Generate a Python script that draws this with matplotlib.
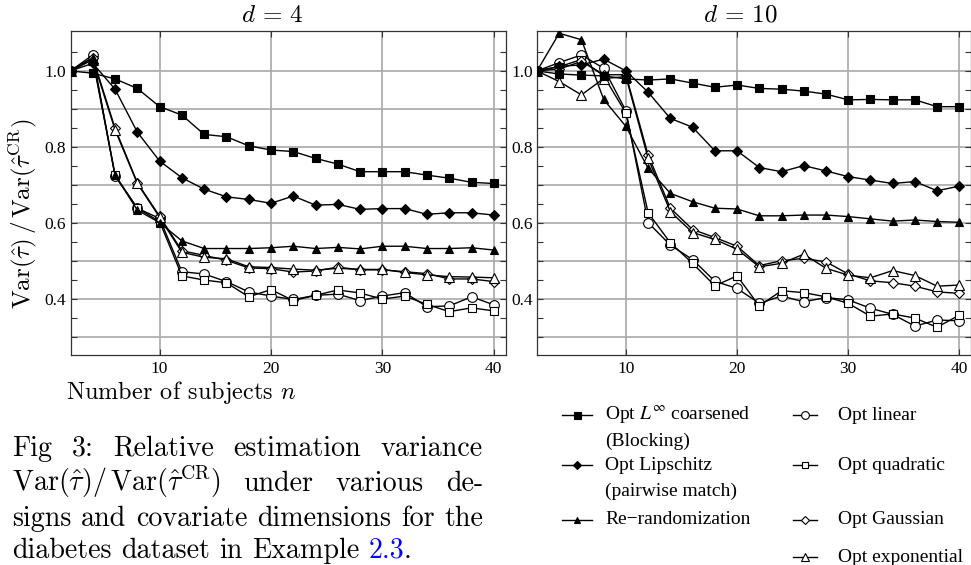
import matplotlib.pyplot as plt
import numpy as np
from matplotlib.lines import Line2D
from matplotlib.ticker import FixedFormatter, FixedLocator

plt.rcParams['mathtext.fontset'] = 'cm'
plt.rcParams['font.family'] = ['Liberation Serif', 'DejaVu Serif']

W, H = 971, 565

# number of subjects
n = list(range(2, 41, 2))

# d = 4
linf4 = [1.0, 0.994, 0.979, 0.954, 0.906, 0.884, 0.833, 0.827, 0.803, 0.792,
         0.788, 0.770, 0.755, 0.735, 0.735, 0.735, 0.726, 0.718, 0.707, 0.704]
lip4 = [1.0, 1.02, 0.952, 0.839, 0.763, 0.719, 0.689, 0.669, 0.662, 0.652,
        0.671, 0.647, 0.649, 0.636, 0.638, 0.638, 0.623, 0.627, 0.627, 0.621]
rerand4 = [1.0, 1.035, 0.726, 0.634, 0.601, 0.553, 0.533, 0.533, 0.533, 0.535,
           0.539, 0.533, 0.536, 0.532, 0.539, 0.539, 0.533, 0.533, 0.535, 0.529]
lin4 = [1.0, 1.042, 0.724, 0.639, 0.612, 0.472, 0.466, 0.446, 0.419, 0.408,
        0.399, 0.410, 0.413, 0.396, 0.408, 0.417, 0.380, 0.382, 0.406, 0.385]
quad4 = [1.0, 1.03, 0.726, 0.639, 0.604, 0.461, 0.450, 0.443, 0.406, 0.425,
         0.396, 0.410, 0.424, 0.416, 0.400, 0.408, 0.386, 0.367, 0.377, 0.369]
gauss4 = [1.0, 1.035, 0.849, 0.706, 0.618, 0.527, 0.515, 0.502, 0.482, 0.480,
          0.471, 0.474, 0.484, 0.477, 0.477, 0.472, 0.467, 0.453, 0.453, 0.446]
expo4 = [1.0, 1.03, 0.845, 0.704, 0.615, 0.523, 0.510, 0.506, 0.485, 0.483,
         0.479, 0.476, 0.481, 0.478, 0.478, 0.470, 0.464, 0.459, 0.458, 0.456]

# d = 10
linf10 = [1.0, 0.992, 0.989, 0.987, 0.979, 0.976, 0.979, 0.968, 0.957, 0.963,
          0.954, 0.952, 0.947, 0.939, 0.924, 0.925, 0.924, 0.924, 0.906, 0.906]
lip10 = [1.0, 1.012, 1.016, 1.031, 1.0, 0.944, 0.875, 0.852, 0.790, 0.790,
         0.746, 0.735, 0.751, 0.737, 0.722, 0.713, 0.704, 0.709, 0.685, 0.697]
rerand10 = [1.0, 1.099, 1.082, 0.925, 0.854, 0.744, 0.678, 0.656, 0.639, 0.637,
            0.619, 0.619, 0.621, 0.621, 0.617, 0.611, 0.605, 0.608, 0.604, 0.602]
lin10 = [1.0, 1.022, 1.042, 1.007, 0.895, 0.601, 0.542, 0.504, 0.447, 0.428,
         0.389, 0.408, 0.393, 0.404, 0.398, 0.376, 0.360, 0.329, 0.345, 0.343]
quad10 = [1.0, 1.011, 1.03, 0.987, 0.889, 0.627, 0.548, 0.494, 0.435, 0.461,
          0.382, 0.422, 0.417, 0.406, 0.389, 0.355, 0.361, 0.350, 0.326, 0.358]
gauss10 = [1.0, 1.005, 1.025, 0.99, 0.99, 0.779, 0.639, 0.583, 0.562, 0.539,
           0.488, 0.501, 0.507, 0.498, 0.466, 0.448, 0.443, 0.434, 0.419, 0.415]
expo10 = [1.0, 0.972, 0.937, 0.98, 0.985, 0.770, 0.630, 0.575, 0.557, 0.531,
          0.485, 0.494, 0.518, 0.481, 0.463, 0.456, 0.475, 0.462, 0.434, 0.437]

labels = [r'Opt $L^{\infty}$ coarsened' + '\n(Blocking)',
          'Opt Lipschitz\n(pairwise match)',
          'Re\u2212randomization',
          'Opt linear', 'Opt quadratic', 'Opt Gaussian', 'Opt exponential']
# marker, filled, size
styles = [('s', True, 6.3), ('D', True, 5.4), ('^', True, 6.2),
          ('o', False, 7.0), ('s', False, 6.0), ('D', False, 5.2), ('^', False, 7.0)]

fig = plt.figure(figsize=(W / 100, H / 100), dpi=100)


def px(x, y):
    return x / W, 1 - y / H


ax1 = fig.add_axes([70.5 / W, 1 - 355 / H, 435 / W, 324 / H])
ax2 = fig.add_axes([537 / W, 1 - 355 / H, 434 / W, 324 / H])

for ax, series in [(ax1, [linf4, lip4, rerand4, lin4, quad4, gauss4, expo4]),
                   (ax2, [linf10, lip10, rerand10, lin10, quad10, gauss10, expo10])]:
    order = [3, 4, 5, 6, 2, 1, 0]
    for i in order:
        m, filled, ms = styles[i]
        ax.plot(n, series[i], color='black', lw=1.0, marker=m, ms=ms,
                mfc='black' if filled else 'white', mec='black', mew=0.8,
                zorder=3 + (1 if filled else 0))
    ax.set_xlim(2.0, 41.05)
    ax.set_ylim(0.253, 1.105)
    ax.xaxis.set_major_locator(FixedLocator([10, 20, 30, 40]))
    yt = [0.3, 0.4, 0.5, 0.6, 0.7, 0.8, 0.9, 1.0]
    ax.yaxis.set_major_locator(FixedLocator(yt))
    ax.yaxis.set_major_formatter(FixedFormatter(['', '0.4', '', '0.6', '', '0.8', '', '1.0']))
    ax.yaxis.set_minor_locator(FixedLocator([0.35, 0.45, 0.55, 0.65, 0.75, 0.85, 0.95, 1.05]))
    ax.grid(True, which='major', color='#a8a8a8', lw=1.2, zorder=0)
    ax.set_axisbelow(True)
    ax.tick_params(which='both', direction='in', top=True, right=True,
                   length=4, width=0.8, color='#333333', labelsize=12.5)
    ax.tick_params(axis='x', pad=4.5)
    ax.tick_params(axis='y', pad=3)
    for s in ax.spines.values():
        s.set_color('#333333')
        s.set_linewidth(0.9)

fig.text(*px(272, 16), r'$d\,=\,4$', fontsize=18, ha='center', va='center')
fig.text(*px(740, 16), r'$d\,=\,10$', fontsize=18, ha='center', va='center')

fig.text(*px(66, 399), r'Number of subjects $n$', family='cmr10', fontsize=17.5,
         ha='left', va='baseline')
fig.text(*px(23, 214), r'Var$(\hat{\tau})\,/\,$Var$(\hat{\tau}^{\mathrm{CR}})$',
         family='cmr10', fontsize=18, rotation=90, ha='center', va='center')

# legend, two columns
leg_pos = [(562, 592, 605, 415), (562, 592, 605, 465), (562, 592, 605, 520),
           (793, 817, 838, 415), (793, 817, 838, 465), (793, 817, 838, 520),
           (793, 817, 838, 557)]
for lab, (m, filled, ms), (xa, xb, xt, yy) in zip(labels, styles, leg_pos):
    x0, y0 = px(xa, yy)
    x1, _ = px(xb, yy)
    fig.add_artist(Line2D([x0, x1], [y0, y0], transform=fig.transFigure,
                          color='black', lw=1.0))
    fig.add_artist(Line2D([(x0 + x1) / 2], [y0], transform=fig.transFigure,
                          marker=m, ms=ms * 0.8, mfc='black' if filled else 'white',
                          mec='black', mew=0.8, lw=0))
    for k, part in enumerate(lab.split('\n')):
        fig.text(xt / W, 1 - (yy + 26 * k) / H, part, fontsize=14, ha='left',
                 va='center', math_fontfamily='stix')

# caption, justified lines
cap_size = 20.2
renderer = fig.canvas.get_renderer()


def place_line(words, y, x0, x1=None, colors=None, glue=None):
    texts = []
    for k, w in enumerate(words):
        c = colors[k] if colors else 'black'
        texts.append(fig.text(0, 1 - y / H, w, family='cmr10', fontsize=cap_size,
                              color=c, ha='left', va='baseline'))
    widths = [t.get_window_extent(renderer).width for t in texts]
    glue = glue or [1] * (len(words) - 1)
    nat = cap_size * 100 / 72 * 0.333
    if x1 is None:
        gap = nat
    else:
        gap = (x1 - x0 - sum(widths)) / sum(glue)
    x = x0
    for k, (t, w) in enumerate(zip(texts, widths)):
        t.set_x(x / W)
        if k < len(glue):
            x += w + gap * glue[k]


place_line(['Fig', '3:', 'Relative', 'estimation', 'variance'], 456, 12, 483)
place_line([r'Var$(\hat{\tau})/\,$Var$(\hat{\tau}^{\mathrm{CR}})$', 'under', 'various', 'de-'],
           491, 12, 483)
place_line(['signs', 'and', 'covariate', 'dimensions', 'for', 'the'], 526, 12, 483)
place_line(['diabetes', 'dataset', 'in', 'Example', '2.3', '.'], 558, 12,
           colors=['black'] * 4 + ['blue', 'black'], glue=[1, 1, 1, 1, 0])

fig.savefig('out.png', dpi=100)
